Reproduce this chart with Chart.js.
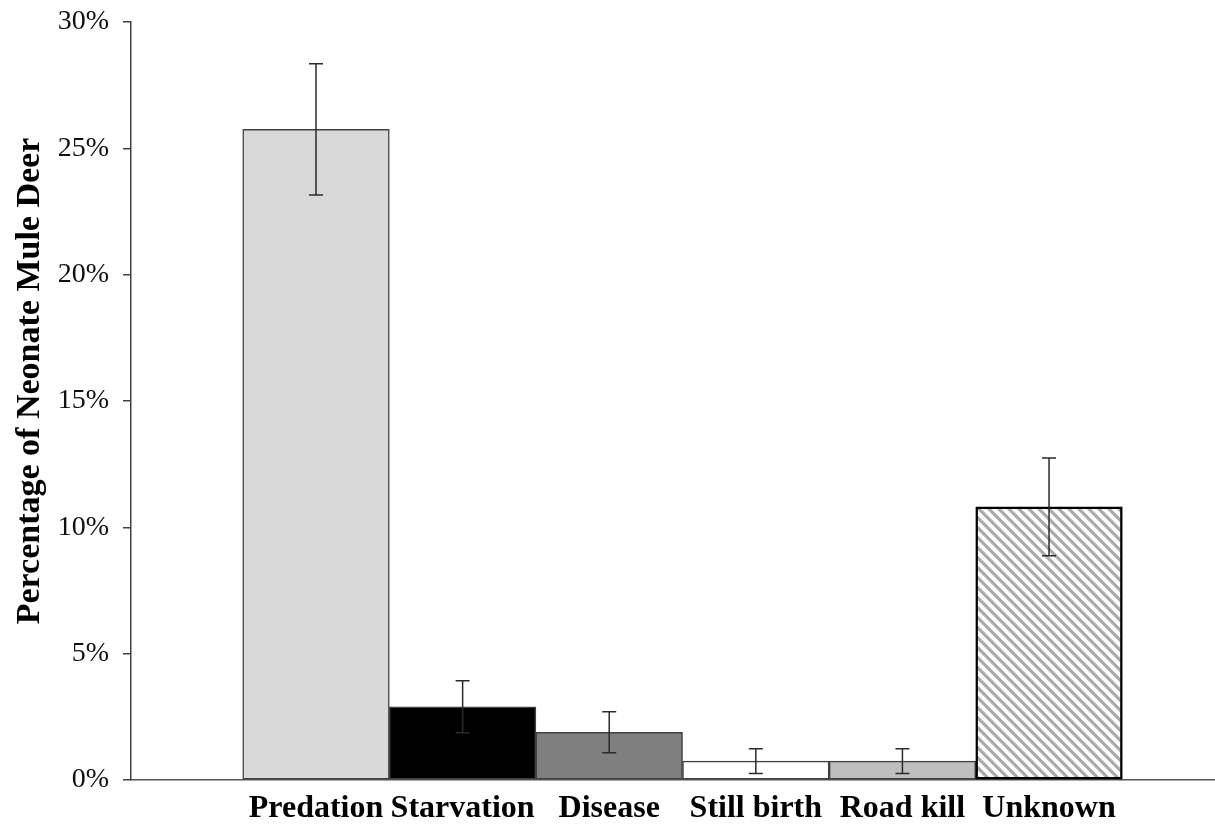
<!DOCTYPE html>
<html>
<head>
<meta charset="utf-8">
<script src="https://cdn.jsdelivr.net/npm/chart.js@4/dist/chart.umd.min.js"></script>
<style>
  html, body { margin: 0; padding: 0; background: #fff; }
  #wrap { width: 1215px; height: 829px; position: relative; }
</style>
</head>
<body>
<div id="wrap"><canvas id="deerChart"></canvas></div>
<script>
// causes of neonate mortality (percent)
const causes = ['Predation', 'Starvation', 'Disease', 'Still birth', 'Road kill', 'Unknown'];
const percents = [25.75, 2.9, 1.89, 0.75, 0.75, 10.81];
const errors = [2.6, 1.03, 0.81, 0.49, 0.49, 1.93];
const yTicks = [0, 5, 10, 15, 20, 25, 30];
const yTitle = 'Percentage of Neonate Mule Deer';

const serif = "'Liberation Serif', 'Times New Roman', serif";

// diagonal hatch for the Unknown bar
function makeHatch() {
    const c = document.createElement('canvas');
    c.width = 10;
    c.height = 10;
    const g = c.getContext('2d');
    g.fillStyle = '#fff';
    g.fillRect(0, 0, 10, 10);
    g.strokeStyle = '#ababab';
    g.lineWidth = 3.2;
    g.beginPath();
    g.moveTo(-5, -5); g.lineTo(15, 15);
    g.moveTo(-5, 5); g.lineTo(5, 15);
    g.moveTo(5, -5); g.lineTo(15, 5);
    g.stroke();
    return g.createPattern(c, 'repeat');
}

const errorBars = {
    id: 'errorBars',
    afterDatasetsDraw(chart) {
        const ctx = chart.ctx;
        const x = chart.scales.x;
        const y = chart.scales.y;
        ctx.save();
        ctx.strokeStyle = '#2b2b2b';
        ctx.lineWidth = 1.5;
        percents.forEach((v, i) => {
            const px = x.getPixelForValue(i);
            const top = y.getPixelForValue(v + errors[i]);
            const bot = y.getPixelForValue(v - errors[i]);
            ctx.beginPath();
            ctx.moveTo(px, top); ctx.lineTo(px, bot);
            ctx.moveTo(px - 7, top); ctx.lineTo(px + 7, top);
            ctx.moveTo(px - 7, bot); ctx.lineTo(px + 7, bot);
            ctx.stroke();
        });
        ctx.restore();
    }
};

const sideTitle = {
    id: 'sideTitle',
    afterDraw(chart) {
        const ctx = chart.ctx;
        ctx.save();
        ctx.translate(30, 381);
        ctx.rotate(-Math.PI / 2);
        ctx.font = 'bold 34px ' + serif;
        ctx.fillStyle = '#000';
        ctx.textAlign = 'center';
        ctx.textBaseline = 'middle';
        ctx.fillText(yTitle, 0, 0);
        ctx.restore();
    }
};

const ctx = document.getElementById('deerChart').getContext('2d');
new Chart(ctx, {
    type: 'bar',
    data: {
        datasets: [{
            data: percents.map((v, i) => ({ x: i, y: v })),
            backgroundColor: ['#d9d9d9', '#000000', '#7f7f7f', '#ffffff', '#bfbfbf', makeHatch()],
            borderColor: ['#404040', '#404040', '#404040', '#404040', '#404040', '#000000'],
            borderWidth: [1.5, 1.5, 1.5, 1.5, 1.5, 2.5],
            borderSkipped: false,
            barPercentage: 1,
            categoryPercentage: 1
        }]
    },
    options: {
        responsive: true,
        maintainAspectRatio: false,
        animation: false,
        layout: { padding: { top: 22, left: 0, right: 0, bottom: 0 } },
        plugins: {
            legend: { display: false },
            tooltip: { enabled: false }
        },
        scales: {
            x: {
                type: 'linear',
                offset: false,
                min: -1.262,
                max: 6.132,
                afterBuildTicks: s => { s.ticks = causes.map((c, i) => ({ value: i })); },
                afterFit: s => { s.height = 49; s.paddingLeft = 0; s.paddingRight = 0; },
                grid: { display: false, drawTicks: false },
                border: { color: '#555', width: 1.5 },
                ticks: {
                    padding: 10,
                    color: '#000',
                    font: { family: serif, size: 32, weight: 'bold' },
                    callback: v => causes[v]
                }
            },
            y: {
                min: 0,
                max: 30,
                afterBuildTicks: s => { s.ticks = yTicks.map(v => ({ value: v })); },
                afterFit: s => { s.width = 131; s.paddingTop = 0; s.paddingBottom = 0; },
                grid: { drawOnChartArea: false, drawTicks: true, tickLength: 8, color: '#404040', lineWidth: 1.5 },
                border: { color: '#404040', width: 1.5 },
                ticks: {
                    padding: 14,
                    color: '#111',
                    font: { family: serif, size: 28 },
                    callback: v => v + '%'
                }
            }
        }
    },
    plugins: [errorBars, sideTitle]
});
</script>
</body>
</html>
